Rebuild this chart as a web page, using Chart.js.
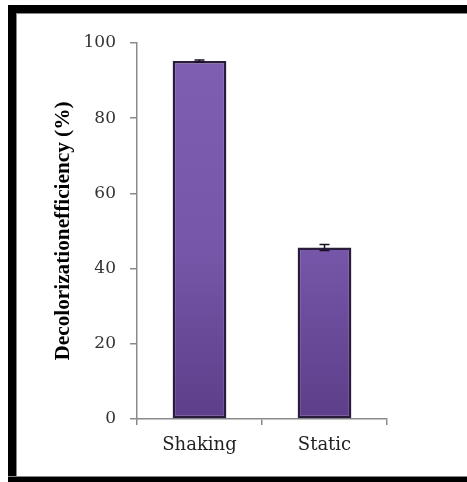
<!DOCTYPE html>
<html>
<head>
<meta charset="utf-8">
<script src="https://cdn.jsdelivr.net/npm/chart.js@4/dist/chart.umd.min.js"></script>
<style>
  html, body { margin: 0; padding: 0; background: #fff; overflow: hidden; }
  #wrap { position: relative; width: 467px; height: 482px; }
  #frame {
    position: absolute; left: 8px; top: 5px; width: 480px; height: 472px;
    border: 8px solid #000; box-sizing: border-box; border-bottom-width: 0;
    box-shadow: inset 1px 1px 0 #888; pointer-events: none;
  }
  #bottomBar { position: absolute; left: 8px; right: 0; top: 476px; height: 6px; background: #000; border-top: 1px solid #888; }
  canvas { position: absolute; left: 0; top: 0; }
</style>
</head>
<body>
<div id="wrap">
  <canvas id="c" width="467" height="482"></canvas>
  <div id="frame"></div>
  <div id="bottomBar"></div>
</div>
<script>
// Decolorization efficiency under two incubation conditions
const categories = ['Shaking', 'Static'];
const efficiency = [95.2, 45.6];
const errors = [0.3, 0.8];
const yTicks = [0, 20, 40, 60, 80, 100];
const yTitle = 'Decolorizationefficiency (%)';

function barFill(ctx) {
  const area = ctx.chart.chartArea;
  if (!area) return '#7656a6';
  const g = ctx.chart.ctx.createLinearGradient(0, area.top, 0, area.bottom);
  g.addColorStop(0, '#7f5fb2');
  g.addColorStop(0.55, '#7656a8');
  g.addColorStop(1, '#5c3e8a');
  return g;
}

// error bars + rotated axis title
const extras = {
  id: 'extras',
  afterDatasetsDraw(chart) {
    const c = chart.ctx;
    const meta = chart.getDatasetMeta(0);
    const y = chart.scales.y;
    c.save();
    c.strokeStyle = '#1a1026';
    c.lineWidth = 1.5;
    meta.data.forEach((bar, i) => {
      const v = efficiency[i], e = errors[i];
      const yHi = y.getPixelForValue(v + e), yLo = y.getPixelForValue(v - e);
      const x = bar.x;
      c.beginPath();
      c.moveTo(x, yHi); c.lineTo(x, yLo);
      c.moveTo(x - 5, yHi); c.lineTo(x + 5, yHi);
      c.moveTo(x - 5, yLo); c.lineTo(x + 5, yLo);
      c.stroke();
    });
    c.restore();
  },
  afterDraw(chart) {
    const c = chart.ctx;
    const a = chart.chartArea;
    c.save();
    c.font = 'bold 20px "Liberation Serif", "Times New Roman", serif';
    c.fillStyle = '#000';
    c.textAlign = 'center';
    c.textBaseline = 'middle';
    const w = c.measureText(yTitle).width;
    c.translate(64, (a.top + a.bottom) / 2);
    c.rotate(-Math.PI / 2);
    c.scale(259 / w, 1);
    c.fillText(yTitle, 0, 0);
    c.restore();
  }
};

new Chart(document.getElementById('c'), {
  type: 'bar',
  data: {
    labels: categories,
    datasets: [{
      data: efficiency,
      backgroundColor: barFill,
      borderColor: '#2a1c3c',
      borderWidth: 2.5,
      borderSkipped: false,
      barPercentage: 0.86,
      categoryPercentage: 0.5
    }]
  },
  options: {
    responsive: false,
    animation: false,
    events: [],
    layout: { padding: { left: 0, right: 80, top: 43, bottom: 0 } },
    plugins: { legend: { display: false }, tooltip: { enabled: false } },
    scales: {
      x: {
        border: { color: '#8a8a8a', width: 1.5 },
        grid: { drawOnChartArea: false, color: '#8a8a8a', tickLength: 6, lineWidth: 1.5, offset: true },
        ticks: { color: '#222', font: { family: '"DejaVu Serif", serif', size: 18 }, padding: 10 },
        afterFit(s) { s.height = 63; }
      },
      y: {
        min: 0, max: 100,
        afterBuildTicks(s) { s.ticks = yTicks.map(v => ({ value: v })); },
        border: { color: '#8a8a8a', width: 1.5 },
        grid: { drawOnChartArea: false, color: '#8a8a8a', tickLength: 7, lineWidth: 1.5 },
        ticks: { color: '#333', font: { family: '"DejaVu Serif", serif', size: 17 }, padding: 14 },
        afterFit(s) { s.width = 137; }
      }
    }
  },
  plugins: [extras]
});
</script>
</body>
</html>
